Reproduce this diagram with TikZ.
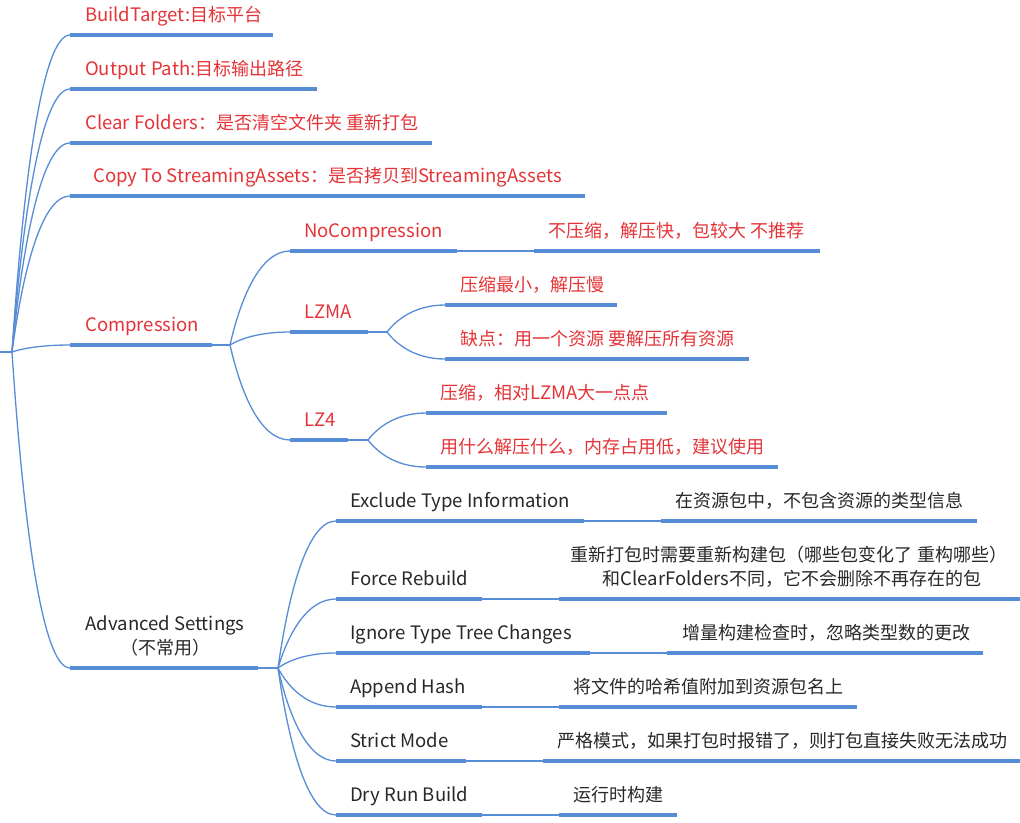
\documentclass[tikz,border=0pt]{standalone}
\usepackage{fontspec}
\setmainfont{Noto Sans CJK SC}
\newfontfamily\latfont[Scale=1.03]{Noto Sans CJK SC}
\newcommand{\lat}[1]{{\latfont #1}}
\usetikzlibrary{calc}
\definecolor{lineblue}{RGB}{86,141,214}
\definecolor{txtred}{RGB}{229,52,56}
\definecolor{txtdark}{RGB}{40,40,40}
\tikzset{
  x=1pt, y=-1pt,
  bar/.style={draw=lineblue, line width=4pt},
  link/.style={draw=lineblue, line width=1.3pt},
  br/.style={to path={let \p1=(\tikztostart), \p2=(\tikztotarget) in
     .. controls (\x1+0.18*\x2-0.18*\x1, 0.5*\y1+0.5*\y2) and (0.5*\x1+0.5*\x2, \y2) .. (\tikztotarget)}},
  red/.style={anchor=base west, inner sep=0pt, text=txtred, font=\fontsize{18}{22}\selectfont},
  dark/.style={anchor=base west, inner sep=0pt, text=txtdark, font=\fontsize{18}{22}\selectfont},
  darkc/.style={anchor=base, inner sep=0pt, text=txtdark, font=\fontsize{18}{22}\selectfont},
}
\begin{document}
\begin{tikzpicture}
\useasboundingbox[fill=white] (0,0) rectangle (1020,822);
% root
\coordinate (rootL) at (0,352);
\coordinate (root) at (12,352);
\draw[link] (rootL) -- (root);

% ---------- level 1 ----------
\coordinate (bt) at (70,35);  \coordinate (btE) at (273,35);
\coordinate (op) at (70,89);  \coordinate (opE) at (317,89);
\coordinate (cf) at (70,143); \coordinate (cfE) at (432,143);
\coordinate (cs) at (70,196); \coordinate (csE) at (585,196);
\coordinate (cp) at (70,345); \coordinate (cpE) at (212,345); \coordinate (cpH) at (230,345);
\coordinate (ad) at (70,668); \coordinate (adE) at (258,668); \coordinate (adH) at (278,668);

\foreach \a in {bt,op,cf,cs,cp,ad} \draw[link] (root) to[br] (\a);
\draw[bar] (bt) -- (btE);
\draw[bar] (op) -- (opE);
\draw[bar] (cf) -- (cfE);
\draw[bar] (cs) -- (csE);
\draw[bar] (cp) -- (cpE); \draw[link] (cpE) -- (cpH);
\draw[bar] (ad) -- (adE); \draw[link] (adE) -- (adH);

\node[red] (tbt) at (85,21) {\lat{BuildTarget:}目标平台};
\node[red] (top) at (85,75) {\lat{Output Path:}目标输出路径};
\node[red] (tcf) at (85,129) {\lat{Clear Folders}：是否清空文件夹 重新打包};
\node[red] (tcs) at (93,182) {\lat{Copy To StreamingAssets}：是否拷贝到\lat{StreamingAssets}};
\node[red] (tcp) at (85,331) {\lat{Compression}};
\node[darkc] (tad) at (165,630) {\lat{Advanced Settings}};
\node[darkc] (tad2) at (165,654) {（不常用）};

% ---------- compression ----------
\coordinate (nc) at (290,251); \coordinate (ncE) at (457,251);
\coordinate (ncD) at (534,251); \coordinate (ncDE) at (820,251);
\coordinate (lm) at (290,332); \coordinate (lmE) at (368,332); \coordinate (lmH) at (387,332);
\coordinate (l4) at (290,440); \coordinate (l4E) at (348,440); \coordinate (l4H) at (368,440);
\foreach \a in {nc,lm,l4} \draw[link] (cpH) to[br] (\a);
\draw[bar] (nc) -- (ncE); \draw[link] (ncE) -- (ncD); \draw[bar] (ncD) -- (ncDE);
\draw[bar] (lm) -- (lmE); \draw[link] (lmE) -- (lmH);
\draw[bar] (l4) -- (l4E); \draw[link] (l4E) -- (l4H);
\node[red] (tnc) at (304,237) {\lat{NoCompression}};
\node[red] (tncD) at (548,237) {不压缩，解压快，包较大 不推荐};
\node[red] (tlm) at (304,318) {\lat{LZMA}};
\node[red] (tl4) at (304,426) {\lat{LZ4}};

\coordinate (lma) at (445,305); \coordinate (lmaE) at (617,305);
\coordinate (lmb) at (445,359); \coordinate (lmbE) at (749,359);
\foreach \a in {lma,lmb} \draw[link] (lmH) to[br] (\a);
\draw[bar] (lma) -- (lmaE);
\draw[bar] (lmb) -- (lmbE);
\node[red] (tlma) at (460,291) {压缩最小，解压慢};
\node[red] (tlmb) at (460,345) {缺点：用一个资源 要解压所有资源};

\coordinate (l4a) at (426,413); \coordinate (l4aE) at (667,413);
\coordinate (l4b) at (426,467); \coordinate (l4bE) at (778,467);
\foreach \a in {l4a,l4b} \draw[link] (l4H) to[br] (\a);
\draw[bar] (l4a) -- (l4aE);
\draw[bar] (l4b) -- (l4bE);
\node[red] (tl4a) at (440,399) {压缩，相对\lat{LZMA}大一点点};
\node[red] (tl4b) at (440,453) {用什么解压什么，内存占用低，建议使用};

% ---------- advanced ----------
\coordinate (ex) at (336,521); \coordinate (exE) at (584,521); \coordinate (exD) at (661,521); \coordinate (exDE) at (977,521);
\coordinate (fr) at (336,599); \coordinate (frE) at (482,599); \coordinate (frD) at (559,599); \coordinate (frDE) at (1020,599);
\coordinate (ig) at (336,653); \coordinate (igE) at (590,653); \coordinate (igD) at (667,653); \coordinate (igDE) at (983,653);
\coordinate (ah) at (336,707); \coordinate (ahE) at (482,707); \coordinate (ahD) at (559,707); \coordinate (ahDE) at (857,707);
\coordinate (sm) at (336,761); \coordinate (smE) at (466,761); \coordinate (smD) at (543,761); \coordinate (smDE) at (1020,761);
\coordinate (dr) at (336,815); \coordinate (drE) at (482,815); \coordinate (drD) at (559,815); \coordinate (drDE) at (677,815);
\foreach \a in {ex,fr,ig,ah,sm,dr} {
  \draw[link] (adH) to[br] (\a);
  \draw[bar] (\a) -- (\a E);
  \draw[link] (\a E) -- (\a D);
  \draw[bar] (\a D) -- (\a DE);
}
\node[dark] (tex) at (350,507) {\lat{Exclude Type Information}};
\node[dark] (texD) at (675,507) {在资源包中，不包含资源的类型信息};
\node[dark] (tfr) at (350,585) {\lat{Force Rebuild}};
\node[darkc] (tfrD) at (789,561) {重新打包时需要重新构建包（哪些包变化了 重构哪些）};
\node[darkc] (tfrD2) at (792,585) {和\lat{ClearFolders}不同，它不会删除不再存在的包};
\node[dark] (tig) at (350,639) {\lat{Ignore Type Tree Changes}};
\node[dark] (tigD) at (682,639) {增量构建检查时，忽略类型数的更改};
\node[dark] (tah) at (350,693) {\lat{Append Hash}};
\node[dark] (tahD) at (573,693) {将文件的哈希值附加到资源包名上};
\node[dark] (tsm) at (350,747) {\lat{Strict Mode}};
\node[dark] (tsmD) at (557,747) {严格模式，如果打包时报错了，则打包直接失败无法成功};
\node[dark] (tdr) at (350,801) {\lat{Dry Run Build}};
\node[dark] (tdrD) at (573,801) {运行时构建};
\end{tikzpicture}
\end{document}
